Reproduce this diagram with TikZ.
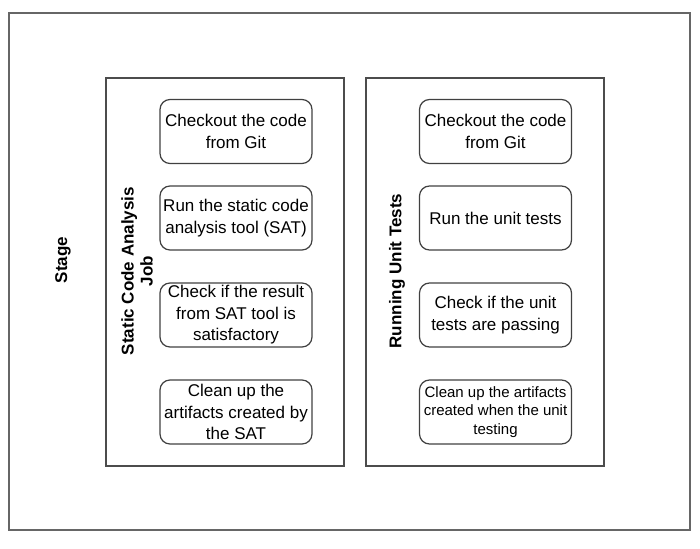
\documentclass[tikz,border=0pt]{standalone}
\usepackage{fontspec}
\setmainfont{Liberation Sans}
\usepackage{tikz}
\usetikzlibrary{positioning}

\tikzset{
  task/.style={draw=black!75, line width=1.2pt, rounded corners=10pt,
    minimum width=152pt, minimum height=64pt, inner sep=1pt, align=center,
    font=\fontsize{17}{21.5}\selectfont},
  lane/.style={draw=black!70, line width=1.2pt, minimum width=238pt, minimum height=388pt},
  lanetitle/.style={rotate=90, align=center, font=\bfseries\fontsize{17}{19}\selectfont}
}

\begin{document}
\begin{tikzpicture}[x=1pt,y=-1pt]
        \useasboundingbox (0,0) rectangle (700,548);
        % stage frame
        \node [draw=black!60, line width=1.2pt, minimum width=681pt, minimum height=517pt] (stage) at (349.5,271.5) {};
        \node [lanetitle] (stagetitle) at (63,260) {Stage};

        % job 1
        \node [lane] (sca) at (225,272) {};
        \node [lanetitle] (scatitle) at (137,271) {Static Code Analysis\\Job};
        \node [task] (sca1) at (236,131.5) {Checkout the code\\from Git};
        \node [task] (sca2) at (236,218) {Run the static code\\analysis tool (SAT)};
        \node [task, text depth=4pt] (sca3) at (236,315) {Check if the result\\from SAT tool is\\satisfactory};
        \node [task] (sca4) at (236,412) {Clean up the\\artifacts created by\\the SAT};

        % job 2
        \node [lane] (unit) at (485,272) {};
        \node [lanetitle] (unittitle) at (397,271) {Running Unit Tests};
        \node [task] (unit1) at (495.5,131.5) {Checkout the code\\from Git};
        \node [task] (unit2) at (495.5,218) {Run the unit tests};
        \node [task] (unit3) at (495.5,315) {Check if the unit\\tests are passing};
        \node [task, font=\fontsize{15}{18.3}\selectfont] (unit4) at (495.5,412) {Clean up the artifacts\\created when the unit\\testing};
\end{tikzpicture}
\end{document}
